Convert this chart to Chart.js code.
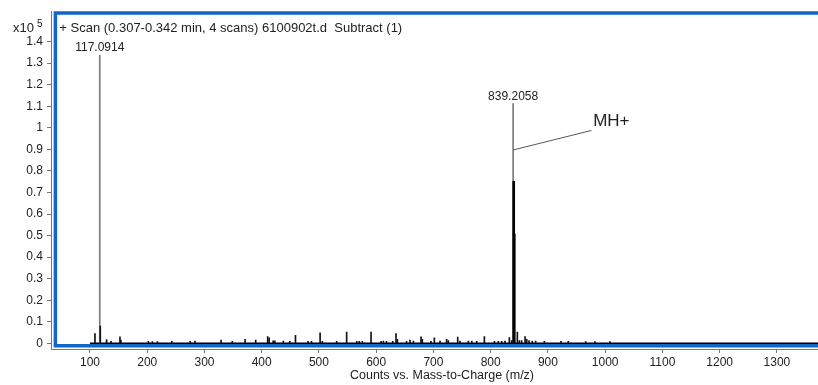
<!DOCTYPE html>
<html>
<head>
<meta charset="utf-8">
<script src="https://cdn.jsdelivr.net/npm/chart.js@4.4.0/dist/chart.umd.min.js"></script>
<style>
  html, body { margin: 0; padding: 0; background: #fff; }
  #wrap { width: 818px; height: 385px; position: relative; }
</style>
</head>
<body>
<div id="wrap"><canvas id="spectrum"></canvas></div>
<script>
// intensities in units of 10^5 counts
const peakMz = [108.7, 118.0, 129.0, 136.7, 152.4, 154.0, 202.0, 209.0, 218.0, 243.0,
  275.0, 283.5, 329.0, 348.6, 371.0, 389.5, 410.4, 413.0, 420.0, 423.0,
  437.7, 449.0, 459.0, 481.0, 487.0, 502.0, 506.0, 530.9, 548.4, 566.0,
  570.5, 575.7, 591.0, 608.4, 612.5, 618.0, 628.8, 634.6, 637.0, 653.0,
  659.0, 665.0, 678.3, 680.6, 695.7, 701.6, 711.5, 723.0, 726.0, 742.4,
  746.4, 761.0, 767.0, 775.6, 789.0, 806.6, 813.5, 819.3, 825.0, 832.6,
  836.7, 846.6, 850.0, 854.0, 860.0, 863.0, 867.0, 872.7, 878.6, 893.7,
  922.8, 935.6, 966.0, 982.0, 1008.5];
const peakCounts = [0.046, 0.08, 0.018, 0.01, 0.03, 0.015, 0.01, 0.008, 0.008, 0.009,
  0.009, 0.011, 0.015, 0.009, 0.019, 0.015, 0.032, 0.026, 0.012, 0.012,
  0.011, 0.009, 0.037, 0.009, 0.009, 0.049, 0.009, 0.009, 0.052, 0.01,
  0.01, 0.009, 0.052, 0.01, 0.011, 0.009, 0.01, 0.045, 0.019, 0.01,
  0.015, 0.011, 0.031, 0.019, 0.009, 0.026, 0.011, 0.019, 0.013, 0.029,
  0.011, 0.011, 0.011, 0.01, 0.032, 0.01, 0.009, 0.009, 0.011, 0.027,
  0.013, 0.052, 0.013, 0.013, 0.032, 0.019, 0.013, 0.011, 0.011, 0.009,
  0.01, 0.009, 0.008, 0.008, 0.008];
const labeledMz = [117.0914, 839.2058];
const labeledCounts = [1.336, 1.112];
const isotopeMz = [840.21, 841.21];
const isotopeCounts = [0.752, 0.507];
const scanRange = [100, 1400];
const xTicks = [100, 200, 300, 400, 500, 600, 700, 800, 900, 1000, 1100, 1200, 1300];
const yTicks = [0, 0.1, 0.2, 0.3, 0.4, 0.5, 0.6, 0.7, 0.8, 0.9, 1, 1.1, 1.2, 1.3, 1.4];
const scanTitle = "+ Scan (0.307-0.342 min, 4 scans) 6100902t.d  Subtract (1)";
const xTitle = "Counts vs. Mass-to-Charge (m/z)";
const mhLabel = "MH+";

const FONT = "'Liberation Sans', Arial, sans-serif";
Chart.defaults.font.family = FONT;
Chart.defaults.color = "#222";

const toPoints = (xs, ys) => xs.map((v, i) => ({ x: v, y: ys[i] }));

const overlay = {
  id: "overlay",
  afterDraw(chart) {
    const { ctx, chartArea: a, scales: { x, y } } = chart;
    ctx.save();

    // blue plot frame (open on the right, runs off the canvas)
    ctx.strokeStyle = "#1266c8";
    ctx.lineWidth = 3.5;
    ctx.beginPath();
    ctx.moveTo(a.right + 5, a.top + 1.9);
    ctx.lineTo(a.left + 4.4, a.top + 1.9);
    ctx.lineTo(a.left + 4.4, a.bottom - 3.3);
    ctx.lineTo(a.right + 5, a.bottom - 3.3);
    ctx.stroke();

    ctx.fillStyle = "#222";
    // peak labels
    ctx.font = "12px " + FONT;
    ctx.textAlign = "center";
    ctx.textBaseline = "alphabetic";
    labeledMz.forEach((mz, i) => {
      ctx.fillText(mz.toFixed(4), x.getPixelForValue(mz), y.getPixelForValue(labeledCounts[i]) - 4);
    });

    // MH+ callout
    ctx.strokeStyle = "#555";
    ctx.lineWidth = 1;
    ctx.beginPath();
    ctx.moveTo(x.getPixelForValue(labeledMz[1]), y.getPixelForValue(0.897));
    ctx.lineTo(x.getPixelForValue(976), y.getPixelForValue(0.9875));
    ctx.stroke();
    ctx.font = "17px " + FONT;
    ctx.textAlign = "left";
    ctx.textBaseline = "middle";
    ctx.fillText(mhLabel, x.getPixelForValue(979), y.getPixelForValue(1.031));

    // scan header
    ctx.font = "13px " + FONT;
    ctx.fillText(scanTitle, a.left + 8.3, a.top + 17.7);

    // y multiplier
    ctx.fillText("x10", 13, 28);
    ctx.font = "10px " + FONT;
    ctx.fillText("5", 37, 24);

    // x axis title
    ctx.font = "12.5px " + FONT;
    ctx.textAlign = "center";
    ctx.fillText(xTitle, 442, 376);
    ctx.restore();
  }
};

new Chart(document.getElementById("spectrum"), {
  type: "bar",
  data: {
    datasets: [
      {
        data: toPoints(isotopeMz, isotopeCounts),
        backgroundColor: "#000",
        barThickness: 2
      },
      {
        data: toPoints(peakMz, peakCounts),
        backgroundColor: "#111",
        barThickness: 1
      },
      {
        data: toPoints(labeledMz, labeledCounts),
        backgroundColor: "#7a7a7a",
        barThickness: 1
      },
      {
        type: "line",
        data: scanRange.map(v => ({ x: v, y: 0 })),
        borderColor: "#000",
        borderWidth: 1.6,
        pointRadius: 0
      }
    ]
  },
  plugins: [overlay],
  options: {
    responsive: true,
    maintainAspectRatio: false,
    animation: false,
    grouped: false,
    layout: { padding: { top: 9, right: 0, left: 0, bottom: 0 } },
    plugins: {
      legend: { display: false },
      tooltip: { enabled: false }
    },
    scales: {
      x: {
        type: "linear",
        min: 31.9,
        max: 1371.8,
        offset: false,
        grid: { drawOnChartArea: false, offset: false, tickLength: 4, color: "#777" },
        border: { color: "#777" },
        ticks: {
          font: { size: 12 },
          padding: 2,
          color: "#222",
          maxRotation: 0,
          callback: v => String(v)
        },
        afterBuildTicks(scale) { scale.ticks = xTicks.map(v => ({ value: v })); },
        afterFit(scale) { scale.height = 36; }
      },
      y: {
        min: -0.026,
        max: 1.5406,
        grid: { drawOnChartArea: false, tickLength: 4, color: "#777" },
        border: { color: "#777" },
        ticks: {
          font: { size: 12 },
          padding: 4,
          color: "#222",
          callback: v => String(+v.toFixed(1))
        },
        afterBuildTicks(scale) { scale.ticks = yTicks.map(v => ({ value: v })); },
        afterFit(scale) { scale.width = 51; }
      }
    }
  }
});
</script>
</body>
</html>
